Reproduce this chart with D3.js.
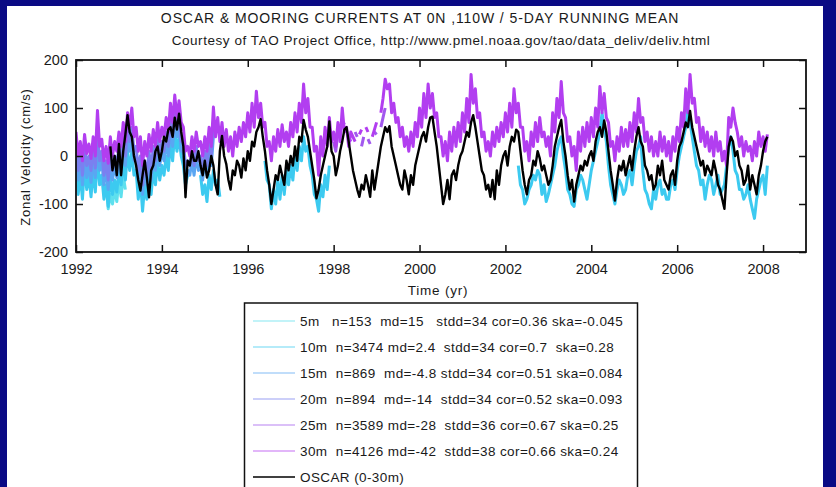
<!DOCTYPE html>
<html>
<head>
<meta charset="utf-8">
<script src="https://cdn.jsdelivr.net/npm/d3@7"></script>
<style>
  html, body { margin: 0; padding: 0; background: #0a0a84; }
  svg { display: block; }
  text { font-family: "Liberation Sans", Arial, sans-serif; fill: #1a1a1a; }
</style>
</head>
<body>
<svg id="chart" width="836" height="487"></svg>
<script>
// samples every 0.05 yr (~18 days)
const STEP = 0.05;

const yearTicks = [1992, 1994, 1996, 1998, 2000, 2002, 2004, 2006, 2008];
const velTicks = [-200, -100, 0, 100, 200];

// OSCAR (0-30m), black
const oscarStart = 1992.8;
const oscar = [
  20,-30, 0,-40,
  25,-40, 10,45, 85,50, 40,0, -20,-50, -72,-40, -10,-45, -86,-30, -20,10, 20,-10,
  10,40, 30,55, 60,40, 80,55, 88,50, 20,-86, -10,-20, 10,-10, -10,10, -20,-40,
  -10,-45, -30,0, -20,-60, -80,10, 42,0, -17,-50, -70,-30, -40,-10, -20,-45, -5,-30,
  10,-10, 30,20, 50,60, 77,40, 10,-30, -60,-100, -70,-40, -50,-20, -40,-60, -10,-30,
  0,-20, 20,-10, 40,30, 75,55, 40,10, -20,-50, -88,-70, -40,-20, 0,20, 72,10,
  0,-40, -20,10, 30,55, 60,30, 0,-30, -50,-70, -85,-60, -70,-40, -60,-85, -30,-70,
  -40,-10, 20,40, 60,50, 62,20, 0,-20, -40,-60, -70,-30, -50,-80, -40,-60, -20,0,
  20,40, 50,30, 60,80, 82,50, 20,-20, -60,-100, -80,-50, -90,-40, -30,-50, -20,0,
  10,30, 50,40, 70,85, 60,30, 0,-30, -40,-70, -60,-85, -50,-90, -30,-60, -20,0,
  10,-20, 20,40, 30,55, 50,10, -30,-60, -80,-50, -40,-10, -20,10, -5,-30, -20,-40,
  -60,-50, -20,20, 40,60, 75,30, 0,-40, -70,-50, -95,-60, -40,-20, -30,-10, -20,0,
  10,-10, 30,50, 60,40, 74,50, 10,-30, -60,-93, -50,-20, -30,-10, -40,-20, 0,-30,
  10,40, 60,30, 20,-20, -30,-50, -40,-70, -60,-20, -40,-10, -50,-60, -70,-40, -30,-60,
  -10,20, 30,50, 70,60, 94,60, 40,20, 0,-20, -10,-40, -20,-30, -40,-10, -30,-60,
  -70,-90, -110,-40, 20,40, 30,0, 10,-20, -30,-60, -50,-20, -70,-40, -60,-80, -40,-20,
  10,30, 40
];

// 30m mooring, purple
const m30Start = 1992.0;
const m30 = [
  50,0, 30,-10, 45,5, 25,-5, 40,0, 95,20, 35,-10, 20,-15, 40,0, 30,10,
  50,20, 70,30, 90,60, 100,40, 60,10, 40,-20, 30,0, 45,10, 55,20, 70,30,
  60,40, 80,50, 110,70, 127,80, 115,70, 60,10, 20,0, 40,10, 50,20, 30,0,
  40,10, 60,20, 102,40, 80,30, 70,20, 55,10, 40,0, 50,20, 60,30, 70,40,
  90,50, 110,60, 135,80, 110,60, 70,20, 30,-10, 40,10, 55,20, 65,30, 50,20,
  70,40, 90,50, 110,70, 150,90, 120,60, 60,10, 20,-40, 40,0, 60,20, 80,30,
  50,20, 70,30, 100,50, 60,20, 50,40, 30,null, 45,55, null,60, 50,null, 40,55,
  70,null, 90,120, 160,140, 150,90, 110,70, 80,40, 60,20, 40,10, 50,20, 70,40,
  100,60, 130,80, 150,100, 130,80, 90,40, 40,0, 30,-10, 50,10, 60,20, 70,30,
  90,50, 120,70, 170,110, 140,80, 90,40, 50,10, 30,0, 50,20, 60,30, 70,40,
  90,50, 110,60, 140,90, 110,60, 60,10, 30,-10, 50,20, 70,30, 80,40, 50,20,
  40,0, 90,50, 120,80, 155,90, 80,30, 40,0, 20,-30, 50,10, 60,20, 70,30,
  80,40, 100,60, 145,90, 130,80, 70,20, 30,-10, 40,10, 60,20, 55,20, 70,30,
  90,50, 120,70, 80,30, 50,10, 40,0, 30,0, 50,10, 40,0, 30,-10, 40,10,
  60,30, 90,60, 140,90, 170,110, 120,70, 80,30, 60,20, 50,10, 40,0, 50,10,
  30,-10, 10,-20, 80,60, 100,70, 50,20, 40,0, 30,10, 20,-10, 30,0, 50,20,
  40,10, 45
];

// 25m mooring
const m25Start = 1998.0;
const m25 = [30,10, 50,null, 60,70, null,40, 30,null, 50,40, null,20, 40,null, 35,25, null,50, 45,null, 60,80, 100];

// 20m mooring
const m20Start = 1992.0;
const m20 = [
  20,-30, 10,-40, 20,-20, 0,-30, 15,-25, 50,-10, 10,-40, -10,-50, 10,-30, 0,-20,
  20,-10, 40,0, 60,30, 60,10, 20,-30, 0,-60, -10,-40, 10,-30, 20,-10, 40,0,
  30,10, 50,20, 80,40, 100,60, 80,30, 30,-20, -10,-20, 10,-20, 20,-10, 0,-30,
  10,-20, 30,0, 60
];

// 15m mooring
const m15Start = 1992.0;
const m15 = [
  0,-50, -10,-60, 0,-45, -20,-55, -5,-45, 20,-30, -10,-60, -30,-70, -10,-50, -20,-45,
  0,-35, 20,-20, 40,10, 40,-10, 0,-50, -20,-80, -30,-60, -10,-50, 0,-30, 20,-20,
  10,-10, 30,0, 60,20, 80,40, 60,10, 10,-40, -30,-40, -10,-40, 0,-30, -20,-50,
  -10,-40, 10,-20, 40
];

// 10m mooring, in separate records
const m10Starts = [1992.0, 1994.9, 1996.4, 2002.3];
const m10 = [
  [
    -20,-80, -40,-90, -20,-70, -40,-85, -30,-75, 0,-60, -40,-90, -60,-105, -40,-80, -50,-75,
    -30,-60, -10,-50, 10,-30, 10,-40, -30,-90, -50,-115, -60,-90, -40,-80, -30,-60, -10,-50,
    -20,-40, 0,-30, 30,-10, 50,10, 40,0, -20,-60, -40
  ],
  [-40,-80, -60,-95, -40,-70, -30,-60, -50,-85],
  [-10,-50, -60,-110, -70,-100, -50,-90, -40,-80, -30,-60, -20,-50, 0,-30, 20,-10, 40,10, 20,-20, -40,-80, -90,-115, -60,-85, -40,-70, -20],
  [
    -20,-60, -70,-100, -90,-70, -60,-40, -50,-30, -40,-80, -60,-95,
    -80,-60, -40,-20, 10,30, 40,0, -30,-70, -80,-100, -105,-70, -60,-40, -50,-70, -90,-60,
    -30,-10, 10,30, 50,90, 60,30, -20,-60, -80,-100, -70,-50, -60,-80, -70,-40, -30,-60,
    -20,10, 20,40, -30,-70, -80,-100, -110,-70, -90,-60, -50,-80, -70,-90, -90,-60, -50,-70,
    -30,0, 20,40, 60,100, 70,40, 10,-20, -30,-60, -50,-90, -60,-40, -50,-80, -60,-40,
    -80,-70, -60,-20, 20,40, 10,-30, -40,-70, -70,-90, -80,-60, -90,-110, -130,-90, -70,-50,
    -40,-80, -20
  ]
];

// 5m mooring
const m5Start = 1992.7;
const m5 = [-60,-110, -80,-100, -70,-95, -50,-85, -40,-70];

const legendLabels = [
  "5m   n=153  md=15   stdd=34 cor=0.36 ska=-0.045",
  "10m  n=3474 md=2.4  stdd=34 cor=0.7  ska=0.28",
  "15m  n=869  md=-4.8 stdd=34 cor=0.51 ska=0.084",
  "20m  n=894  md=-14  stdd=34 cor=0.52 ska=0.093",
  "25m  n=3589 md=-28  stdd=36 cor=0.67 ska=0.25",
  "30m  n=4126 md=-42  stdd=38 cor=0.66 ska=0.24",
  "OSCAR (0-30m)"
];

// drawing order: shallow first, OSCAR on top
const series = [
  { color: "#5ee0ee", starts: [m5Start], values: [m5] },
  { color: "#3ccaf0", starts: m10Starts, values: m10 },
  { color: "#5aa6f2", starts: [m15Start], values: [m15] },
  { color: "#7a80f0", starts: [m20Start], values: [m20] },
  { color: "#a258ee", starts: [m25Start], values: [m25] },
  { color: "#b23ef0", starts: [m30Start], values: [m30] },
  { color: "#000000", starts: [oscarStart], values: [oscar] }
];

const svg = d3.select("#chart");
const W = 836, H = 487;
const plot = { left: 76, right: 806, top: 60, bottom: 252 };

svg.append("rect").attr("width", W).attr("height", H).attr("fill", "#0a0a84");
svg.append("rect").attr("x", 7).attr("y", 6).attr("width", 816).attr("height", H)
  .attr("fill", "#ffffff");

const x = d3.scaleLinear().domain([1992, 2009]).range([plot.left, plot.right]);
const y = d3.scaleLinear().domain([-200, 200]).range([plot.bottom, plot.top]);

svg.append("text")
  .attr("x", 420).attr("y", 18).attr("dy", "0.35em")
  .attr("text-anchor", "middle").style("font-size", "14px")
  .style("letter-spacing", "0.9px")
  .text("OSCAR & MOORING CURRENTS AT 0N ,110W / 5-DAY RUNNING MEAN");

svg.append("text")
  .attr("x", 441).attr("y", 40).attr("dy", "0.35em")
  .attr("text-anchor", "middle").style("font-size", "13.5px")
  .style("letter-spacing", "0.55px")
  .text("Courtesy of TAO Project Office, http://www.pmel.noaa.gov/tao/data_deliv/deliv.html");

svg.append("defs").append("clipPath").attr("id", "clip")
  .append("rect")
  .attr("x", plot.left).attr("y", plot.top)
  .attr("width", plot.right - plot.left).attr("height", plot.bottom - plot.top);

const line = d3.line()
  .defined(d => d.v !== null)
  .x(d => x(d.t))
  .y(d => y(d.v));

const lines = svg.append("g").attr("clip-path", "url(#clip)");
series.forEach((s, si) => {
  s.values.forEach((vals, k) => {
    const pts = vals.map((v, i) => ({ t: s.starts[k] + i * STEP, v }));
    lines.append("path")
      .attr("d", line(pts))
      .attr("fill", "none")
      .attr("stroke", s.color)
      .attr("stroke-width", si === 6 ? 2.4 : 3)
      .attr("stroke-linejoin", "round");
  });
});

// axes with inward ticks on all four sides
const tick = 7;
const fmt = d => String(d);
const gb = svg.append("g").attr("transform", `translate(0,${plot.bottom})`)
  .call(d3.axisBottom(x).tickValues(yearTicks).tickFormat(fmt)
    .tickSizeInner(-tick).tickSizeOuter(0).tickPadding(12));
const gt = svg.append("g").attr("transform", `translate(0,${plot.top})`)
  .call(d3.axisTop(x).tickValues(yearTicks).tickFormat("")
    .tickSizeInner(-tick).tickSizeOuter(0));
const gl = svg.append("g").attr("transform", `translate(${plot.left},0)`)
  .call(d3.axisLeft(y).tickValues(velTicks).tickFormat(fmt)
    .tickSizeInner(-tick).tickSizeOuter(0).tickPadding(8));
const gr = svg.append("g").attr("transform", `translate(${plot.right},0)`)
  .call(d3.axisRight(y).tickValues(velTicks).tickFormat("")
    .tickSizeInner(-tick).tickSizeOuter(0));

[gb, gt, gl, gr].forEach(g => {
  g.select(".domain").remove();
  g.selectAll(".tick line").attr("stroke", "#111").attr("stroke-width", 1.5);
  g.selectAll(".tick text").attr("fill", "#1a1a1a")
    .style("font-size", "14.5px").style("font-family", "Liberation Sans, Arial, sans-serif");
});

svg.append("rect")
  .attr("x", plot.left).attr("y", plot.top)
  .attr("width", plot.right - plot.left).attr("height", plot.bottom - plot.top)
  .attr("fill", "none").attr("stroke", "#111").attr("stroke-width", 1.8);

svg.append("text")
  .attr("transform", "translate(25,157) rotate(-90)")
  .attr("text-anchor", "middle").attr("dy", "0.35em")
  .style("font-size", "13px").style("letter-spacing", "0.8px")
  .text("Zonal Velocity (cm/s)");

svg.append("text")
  .attr("x", 438).attr("y", 290).attr("dy", "0.35em")
  .attr("text-anchor", "middle").style("font-size", "13.5px")
  .style("letter-spacing", "0.8px")
  .text("Time (yr)");

// legend
const leg = svg.append("g");
leg.append("rect")
  .attr("x", 244.5).attr("y", 303).attr("width", 393).attr("height", 200)
  .attr("fill", "#fff").attr("stroke", "#111").attr("stroke-width", 1.5);

const rows = leg.selectAll("g.row")
  .data(legendLabels)
  .enter().append("g")
  .attr("class", "row")
  .attr("transform", (d, i) => `translate(0,${321 + i * 26})`);

rows.append("line")
  .attr("x1", 253).attr("x2", 295)
  .attr("stroke", (d, i) => series[i].color)
  .attr("stroke-opacity", (d, i) => i === 6 ? 1 : 0.75)
  .attr("stroke-width", (d, i) => i === 6 ? 1.5 : 1.2);

rows.append("text")
  .attr("x", 300).attr("dy", "0.35em")
  .style("font-size", "13.5px").style("white-space", "pre")
  .style("letter-spacing", "0.4px")
  .text(d => d);
</script>
</body>
</html>
